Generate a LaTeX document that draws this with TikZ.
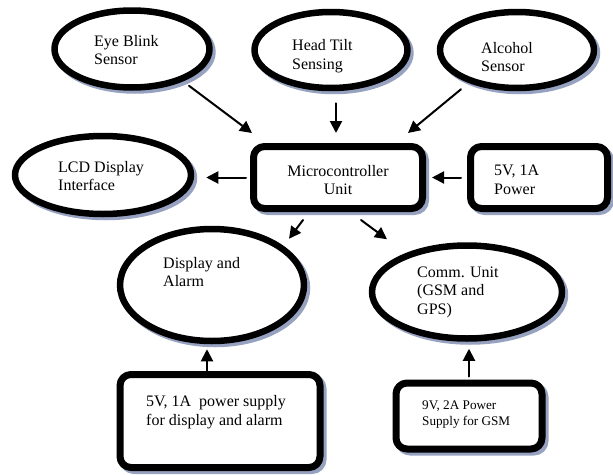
\documentclass[tikz,border=0pt]{standalone}
\usepackage{fontspec}
\setmainfont{Liberation Serif}
\usetikzlibrary{shapes.geometric,shadows,arrows.meta}
\definecolor{shade}{RGB}{150,162,192}
\begin{document}
\begin{tikzpicture}[x=1pt,y=-1pt,line cap=round,line join=round,>={Triangle[length=12pt,width=12pt]},
  oval/.style={ellipse,draw,line width=6.5pt,fill=white,inner sep=0pt,
    drop shadow={shadow xshift=3pt,shadow yshift=-3pt,fill=shade,draw=shade,line width=6.5pt,opacity=1}},
  blk/.style={rectangle,rounded corners=11pt,draw,line width=7pt,fill=white,inner sep=0pt,
    drop shadow={shadow xshift=3pt,shadow yshift=-3pt,fill=shade,draw=shade,line width=7pt,opacity=1}},
  lbl/.style={anchor=west,align=left,inner sep=0pt,font=\fontsize{16}{18.5}\selectfont},
  arr/.style={->,line width=2pt}]
\useasboundingbox[fill=white] (0,0) rectangle (613,474);
% sensors on top
\node[oval,minimum width=155,minimum height=77] (eye) at (132,49) {};
\node[oval,minimum width=153,minimum height=76] (head) at (331,50) {};
\node[oval,minimum width=154,minimum height=76] (alc) at (517,50) {};
\node[lbl] (eyet) at (94,50) {Eye Blink\\Sensor};
\node[lbl] (headt) at (292,56) {Head Tilt\\Sensing};
\node[lbl] (alct) at (481,57) {Alcohol\\Sensor};
% middle row
\node[oval,minimum width=176,minimum height=78] (lcd) at (103,175) {};
\node[blk,minimum width=169,minimum height=62] (micro) at (338,177.5) {};
\node[blk,minimum width=137,minimum height=62] (pwr) at (539,177.5) {};
\node[lbl] (lcdt) at (58,176) {LCD Display\\Interface};
\node[lbl,anchor=center,align=center] (microt) at (338,180) {Microcontroller\\Unit};
\node[lbl] (pwrt) at (494,180) {5V, 1A\\Power};
% outputs
\node[oval,minimum width=184,minimum height=112] (disp) at (212,285) {};
\node[oval,minimum width=190,minimum height=93] (comm) at (467,292) {};
\node[lbl] (dispt) at (163,272) {Display and\\Alarm};
\node[lbl] (commt) at (417,292) {Comm. Unit\\(GSM and\\GPS)};
% supplies
\node[blk,minimum width=200,minimum height=93] (sup5) at (220,421) {};
\node[blk,minimum width=146,minimum height=66] (sup9) at (469,416) {};
\node[lbl] (sup5t) at (146,412) {5V, 1A\ \ power supply\\for display and alarm};
\node[lbl,font=\fontsize{13.2}{16}\selectfont] (sup9t) at (422,415) {9V, 2A Power\\Supply for GSM};
% arrows
\draw[arr] ([shift={(57,-5)}]eye.south) -- ([shift={(2,-10)}]micro.north west);
\draw[arr] ([shift={(5,12)}]head.south) -- ([shift={(-2,-10)}]micro.north);
\draw[arr] ([shift={(-56,-2)}]alc.south) -- ([shift={(-18,-10)}]micro.north east);
\draw[arr,shorten <=4pt,shorten >=12pt] (micro.west) -- (micro.west -| lcd.east);
\draw[arr,shorten <=6pt,shorten >=6pt] (pwr.west) -- (pwr.west -| micro.east);
\draw[arr] ([shift={(-35,8)}]micro.south) -- ([shift={(77,13)}]disp.north);
\draw[arr] ([shift={(23,8)}]micro.south) -- ([shift={(-80,-3)}]comm.north);
\draw[arr] ([shift={(-13,0)}]sup5.north) -- ([shift={(-5,5)}]disp.south);
\draw[arr] ([shift={(0,-3)}]sup9.north) -- ([shift={(2,7)}]comm.south);
\end{tikzpicture}
\end{document}
